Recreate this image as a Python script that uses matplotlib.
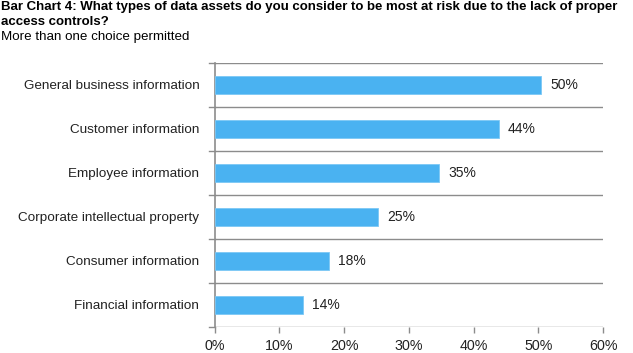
import matplotlib.pyplot as plt
import numpy as np

plt.rcParams['font.family'] = ['Liberation Sans', 'DejaVu Sans']

categories = ["General business information", "Customer information",
              "Employee information", "Corporate intellectual property",
              "Consumer information", "Financial information"]
values = [50.4, 43.9, 34.7, 25.2, 17.7, 13.6]
value_labels = ["50%", "44%", "35%", "25%", "18%", "14%"]
xticks = [0, 10, 20, 30, 40, 50, 60]

fig = plt.figure(figsize=(6.33, 3.53), dpi=100)
ax = fig.add_axes([0.339, 0.0737, 0.614, 0.748])

grey = "#8c8c8c"
ypos = np.arange(len(categories))[::-1]
ax.barh(ypos, values, height=0.41, color="#4AB2F1", edgecolor="#7cc8f5", linewidth=0.6, zorder=3)
for y, v, lab in zip(ypos, values, value_labels):
    ax.text(v + 1.4, y, lab, va="center", ha="left", fontsize=10, color="#222222")

# separators between categories
for b in np.arange(-0.5, len(categories), 1.0):
    ax.axhline(b, color=grey, lw=1.0, zorder=1)
    ax.plot([-0.8, 0], [b, b], color=grey, lw=1.0, clip_on=False)

ax.set_xlim(0, 60)
ax.set_ylim(-0.5, len(categories) - 0.5)
ax.set_xticks(xticks)
ax.set_xticklabels([f"{t}%" for t in xticks], fontsize=10.3, color="#222222")
ax.set_yticks(ypos)
ax.set_yticklabels(categories, fontsize=9.7, color="#222222")
ax.tick_params(axis="y", length=0, pad=11)
ax.tick_params(axis="x", length=4, color=grey, width=1.0, pad=5)
for s in ["top", "right", "bottom"]:
    ax.spines[s].set_visible(False)
ax.spines["left"].set_color(grey)
ax.spines["left"].set_linewidth(1.2)

fig.text(0.002, 0.9717, "Bar Chart 4: What types of data assets do you consider to be most at risk due to the lack of proper",
         fontsize=9.5, fontweight="bold", va="baseline", ha="left")
fig.text(0.002, 0.9292, "access controls?", fontsize=9.5, fontweight="bold", va="baseline", ha="left")
fig.text(0.002, 0.8867, "More than one choice permitted", fontsize=9.6, va="baseline", ha="left")

fig.savefig("out.png", dpi=100)
